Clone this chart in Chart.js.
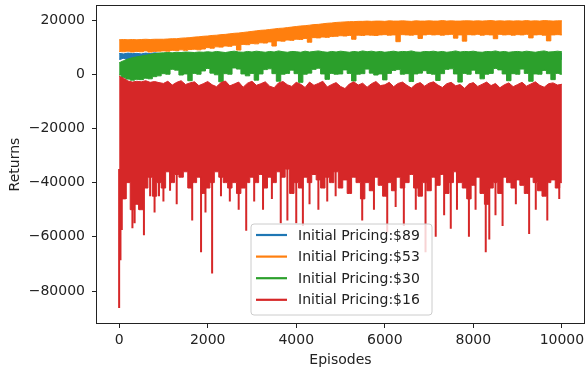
<!DOCTYPE html>
<html>
<head>
<meta charset="utf-8">
<script src="https://cdn.jsdelivr.net/npm/chart.js@4"></script>
<style>
  html, body { margin: 0; padding: 0; background: #fff; }
</style>
</head>
<body>
<canvas id="returnsChart" width="587" height="373"></canvas>
<script>
// returns per episode for 4 starting prices
// each run is very noisy, so every series is kept as an upper / lower envelope sampled every 100 episodes
const EPISODES = [0,100,200,300,400,500,600,700,800,900,1000,1100,1200,1300,1400,1500,1600,1700,1800,1900,
  2000,2100,2200,2300,2400,2500,2600,2700,2800,2900,3000,3100,3200,3300,3400,3500,3600,3700,3800,3900,
  4000,4100,4200,4300,4400,4500,4600,4700,4800,4900,5000,5100,5200,5300,5400,5500,5600,5700,5800,5900,
  6000,6100,6200,6300,6400,6500,6600,6700,6800,6900,7000,7100,7200,7300,7400,7500,7600,7700,7800,7900,
  8000,8100,8200,8300,8400,8500,8600,8700,8800,8900,9000,9100,9200,9300,9400,9500,9600,9700,9800,9900,10000];

const SERIES_LABELS = ['Initial Pricing:$89', 'Initial Pricing:$53', 'Initial Pricing:$30', 'Initial Pricing:$16'];

// $89
const HI_89 = [7700,7500,7800,7600,7700,7500,7800,7600,7900,7700,7600,7800,7500,7700,7900,7600,7800,7700,7500,7800,
  7600,7900,7700,7500,7800,7600,7700,7900,7600,7800,7500,7700,7800,7600,7900,7700,7500,7800,7600,7700,
  7900,7600,7800,7700,7500,7800,7600,7900,7700,7600,7800,7500,7700,7900,7600,7800,7700,7500,7800,7600,
  7900,7700,7500,7800,7600,7700,7900,7600,7800,7500,7700,7800,7600,7900,7700,7500,7800,7600,7700,7900,
  7600,7800,7700,7500,7800,7600,7900,7700,7600,7800,7500,7700,7900,7600,7800,7700,7500,7800,7600,7900,7700];
const LO_89 = [5500,5800,5400,5700,5600,5300,5800,5500,5700,5400,5600,5800,5500,5300,5700,5600,5400,5800,5500,5700,
  5400,5600,5800,5500,5300,5700,5600,5400,5800,5500,5700,5400,5600,5800,5500,5300,5700,5600,5400,5800,
  5500,5700,5400,5600,5800,5500,5300,5700,5600,5400,5800,5500,5700,5400,5600,5800,5500,5300,5700,5600,
  5400,5800,5500,5700,5400,5600,5800,5500,5300,5700,5600,5400,5800,5500,5700,5400,5600,5800,5500,5300,
  5700,5600,5400,5800,5500,5700,5400,5600,5800,5500,5300,5700,5600,5400,5800,5500,5700,5400,5600,5800,5500];

// $53
const HI_53 = [12700,12800,12700,12800,12700,12800,12900,12800,12900,12900,12900,13000,13100,13100,13300,13400,13500,13700,13800,14000,
  14100,14300,14400,14600,14700,14900,15100,15200,15400,15600,15800,16000,16200,16300,16500,16700,16900,17000,17200,17400,
  17600,17800,17900,18100,18300,18400,18600,18800,18900,19100,19200,19300,19400,19400,19500,19500,19600,19500,19600,19600,
  19500,19700,19600,19600,19700,19600,19500,19700,19600,19600,19700,19600,19600,19800,19600,19700,19600,19600,19700,19700,
  19600,19700,19600,19700,19800,19600,19700,19600,19700,19600,19700,19600,19800,19600,19700,19600,19800,19700,19600,19700,19700];
const LO_53 = [8400,8300,8500,8200,8400,8300,8600,8200,8400,8500,8600,8500,8800,8700,9000,8800,9100,9200,9000,9300,
  9800,9600,10100,10000,10400,10300,10700,8900,11000,10900,11300,11200,11600,11500,11900,10400,12300,12200,12600,12500,
  12900,12800,13200,11800,13500,13400,13700,13600,13900,14000,14200,14100,14300,12900,14400,14300,14500,14400,14300,14500,
  14600,14400,14500,12000,14600,14500,14400,14600,13200,14500,14700,14500,14600,14400,14600,14700,13300,14500,12200,14600,
  14500,14700,14400,14600,14500,13100,14700,14500,14600,14400,14600,14500,14700,13400,14500,14600,14400,12300,14500,14600,14500];

// $30
const HI_30 = [4200,5000,5600,6100,6400,6700,7000,7300,7600,7800,7900,8000,7900,8100,8000,8200,8100,8000,8200,8100,
  8300,8100,8400,8200,8000,8300,8500,8200,8100,8400,8200,8500,8300,8100,8400,8200,8600,8300,8100,8400,
  8300,8100,8500,8200,8400,8600,8300,8100,8400,8200,8500,8300,8100,8400,8200,8600,8300,8500,8200,8400,
  8100,8300,8500,8200,8400,8300,8600,8200,8100,8400,8300,8500,8200,8400,8100,8300,8600,8200,8400,8300,
  8500,8200,8100,8400,8300,8600,8200,8400,8100,8300,8400,8200,8500,8300,8100,8400,8600,8200,8300,8500,8300];
const LO_30 = [-300,-1200,-1800,-2200,-1900,-2000,-1500,-1700,-900,-600,200,0,1800,1500,-300,100,-2400,300,0,1200,
  2100,400,-200,-2800,200,0,2300,1900,100,-600,300,-2200,100,1700,2000,200,-2600,0,300,1500,
  200,-3000,0,400,1800,2200,100,-1900,300,0,100,1600,300,-2500,0,200,1900,400,-300,100,
  -2100,300,1400,1700,0,200,-2700,100,400,1300,300,0,-2300,200,1800,2000,100,-2900,300,0,
  1500,200,-1700,0,300,2100,1600,100,-2400,200,0,1900,300,-2600,100,0,1400,200,-2000,300,0];

// $16
const HI_16 = [-700,-1500,-2500,-2900,-2600,-2800,-2400,-3000,-2700,-3100,-3400,-2600,-4000,-3000,-2400,-3800,-3200,-2800,-4200,-3500,
  -2700,-3900,-4600,-3100,-2500,-4300,-3600,-2900,-4800,-3300,-2600,-4100,-3500,-2800,-4400,-5000,-3200,-2700,-3900,-4500,
  -3000,-3700,-4900,-2900,-4100,-3400,-2600,-4700,-3800,-3100,-4500,-5300,-3600,-2800,-4000,-3300,-4800,-3500,-2700,-4200,
  -3900,-3000,-4600,-3400,-2900,-4100,-5100,-3700,-3100,-4400,-3300,-2800,-4000,-4900,-3500,-3000,-4300,-3800,-5200,-3600,
  -3100,-4500,-3700,-2900,-4200,-3400,-5000,-3900,-3200,-4600,-3800,-3000,-4400,-3600,-2800,-4100,-4800,-3500,-3200,-4000,-3700];
const LO_16 = [-57000,-46000,-40000,-50000,-48000,-50000,-42000,-38000,-45000,-40000,-42000,-36000,-40000,-37000,-38000,-36000,-42000,-40000,-38000,-44000,
  -42000,-40000,-36000,-38000,-40000,-42000,-40000,-44000,-42000,-40000,-38000,-40000,-37000,-42000,-38000,-40000,-36000,-38000,-35000,-44000,
  -40000,-42000,-38000,-40000,-37000,-39000,-42000,-38000,-40000,-36000,-42000,-39000,-44000,-38000,-40000,-46000,-40000,-43000,-38000,-41000,
  -45000,-40000,-43000,-38000,-42000,-40000,-37000,-42000,-45000,-40000,-43000,-38000,-41000,-37000,-44000,-40000,-36000,-40000,-42000,-46000,
  -41000,-38000,-44000,-48000,-42000,-40000,-44000,-38000,-40000,-42000,-39000,-41000,-44000,-38000,-40000,-43000,-45000,-40000,-39000,-42000,-40000];
// the single deep episodes below the $16 band
const SPIKE_TOP = -35000;
const SPIKE_EPISODES = [0,30,60,150,300,350,450,560,700,800,900,1000,1150,1300,1650,1850,1950,2100,2300,2500,
  2700,2870,3050,3250,3450,3650,3800,4000,4150,4300,4500,4700,4890,5490,5755,6055,6245,6430,6700,6920,
  7150,7340,7490,7630,7900,8050,8280,8360,8500,8660,8960,9260,9410,9670,9940];
const SPIKE_DEPTHS = [-86300,-68600,-57500,-46000,-56800,-55000,-50000,-59400,-45000,-51000,-45000,-47000,-43000,-48000,-54000,-65700,-51000,-73500,-45000,-47000,
  -50000,-57800,-47000,-50000,-46000,-55000,-54000,-55000,-56000,-48000,-50000,-47000,-45000,-54000,-50000,-58300,-49000,-56000,-50000,-65700,
  -60000,-52000,-57000,-50000,-60000,-50000,-65700,-61000,-52000,-56000,-48000,-59000,-50000,-54000,-46000];

const X_TICKS = [0,2000,4000,6000,8000,10000];
const Y_TICKS = [-80000,-60000,-40000,-20000,0,20000];

const COLORS = ['#1f77b4', '#ff7f0e', '#2ca02c', '#d62728'];
const TEXT = '#222';
const FONT = "'DejaVu Sans', sans-serif";

// upper edge as a plain line, lower edge stepped (gives the notched look) and filled up to the upper edge
function band(hi, lo, color, order) {
  return [
    { data: EPISODES.map((x, i) => ({ x, y: hi[i] })), borderColor: color, borderWidth: 1,
      pointRadius: 0, fill: false, order },
    { data: EPISODES.map((x, i) => ({ x, y: lo[i] })), borderColor: color, backgroundColor: color,
      borderWidth: 1, pointRadius: 0, fill: '-1', stepped: 'middle', order }
  ];
}

const spikeData = [];
SPIKE_EPISODES.forEach((x, i) => {
  spikeData.push({ x, y: SPIKE_TOP }, { x, y: SPIKE_DEPTHS[i] }, { x, y: null });
});

const datasets = [
  ...band(HI_89, LO_89, COLORS[0], 4),
  ...band(HI_53, LO_53, COLORS[1], 3),
  ...band(HI_30, LO_30, COLORS[2], 2),
  ...band(HI_16, LO_16, COLORS[3], 1),
  { data: spikeData, borderColor: COLORS[3], borderWidth: 2, pointRadius: 0, fill: false, spanGaps: false, order: 1 }
];

// axes frame + matplotlib style legend box in the lower middle
const framePlugin = {
  id: 'frameAndLegend',
  afterDraw(chart) {
    const { ctx, chartArea: a } = chart;
    ctx.save();
    ctx.strokeStyle = '#222';
    ctx.lineWidth = 1;
    ctx.strokeRect(Math.round(a.left) - 0.5, Math.round(a.top) - 0.5, Math.round(a.right - a.left) + 1, Math.round(a.bottom - a.top) + 1);

    const bx = 251, by = 224, bw = 181, bh = 91, r = 3;
    ctx.beginPath();
    ctx.moveTo(bx + r, by);
    ctx.arcTo(bx + bw, by, bx + bw, by + bh, r);
    ctx.arcTo(bx + bw, by + bh, bx, by + bh, r);
    ctx.arcTo(bx, by + bh, bx, by, r);
    ctx.arcTo(bx, by, bx + bw, by, r);
    ctx.closePath();
    ctx.fillStyle = 'rgba(255,255,255,0.8)';
    ctx.fill();
    ctx.strokeStyle = '#ccc';
    ctx.stroke();

    ctx.font = '14px ' + FONT;
    ctx.textBaseline = 'middle';
    ctx.textAlign = 'left';
    SERIES_LABELS.forEach((lab, i) => {
      const y = 236 + i * 21.6;
      ctx.strokeStyle = COLORS[i];
      ctx.lineWidth = 2.2;
      ctx.beginPath();
      ctx.moveTo(256, y - 1);
      ctx.lineTo(287, y - 1);
      ctx.stroke();
      ctx.fillStyle = TEXT;
      ctx.fillText(lab, 298, y);
    });
    ctx.restore();
  }
};

const fmt = v => (v < 0 ? '\u2212' + Math.abs(v) : String(v));

new Chart(document.getElementById('returnsChart').getContext('2d'), {
  type: 'line',
  data: { datasets },
  options: {
    responsive: false,
    animation: false,
    layout: { padding: { top: 6, right: 3, left: 0, bottom: 0 } },
    plugins: { legend: { display: false }, tooltip: { enabled: false } },
    scales: {
      x: {
        type: 'linear', min: -500, max: 10499,
        afterBuildTicks: s => { s.ticks = X_TICKS.map(v => ({ value: v })); },
        afterFit: s => { s.height = 50; s.paddingLeft = 0; s.paddingRight = 0; },
        ticks: { color: TEXT, font: { family: FONT, size: 14 }, padding: 4, maxRotation: 0, autoSkip: false, callback: fmt },
        grid: { drawOnChartArea: false, drawTicks: true, tickLength: 5, color: '#222' },
        border: { display: false },
        title: { display: true, text: 'Episodes', color: TEXT, font: { family: FONT, size: 14 }, padding: { top: 0, bottom: 4 } }
      },
      y: {
        type: 'linear', min: -91800, max: 25170,
        afterBuildTicks: s => { s.ticks = Y_TICKS.map(v => ({ value: v })); },
        afterFit: s => { s.width = 97; s.paddingTop = 0; s.paddingBottom = 0; },
        ticks: { color: TEXT, font: { family: FONT, size: 14 }, padding: 7, autoSkip: false, callback: fmt },
        grid: { drawOnChartArea: false, drawTicks: true, tickLength: 5, color: '#222' },
        border: { display: false },
        title: { display: true, text: 'Returns', color: TEXT, font: { family: FONT, size: 14 }, padding: { top: 7, bottom: 0 } }
      }
    }
  },
  plugins: [framePlugin]
});
</script>
</body>
</html>
